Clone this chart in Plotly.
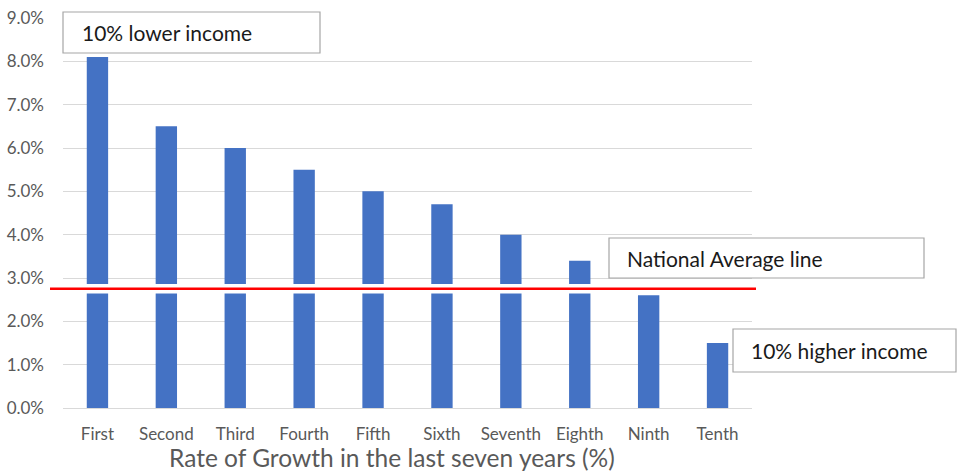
import plotly.graph_objects as go

categories = ["First", "Second", "Third", "Fourth", "Fifth", "Sixth", "Seventh", "Eighth", "Ninth", "Tenth"]
growth = [8.1, 6.5, 6.0, 5.5, 5.0, 4.7, 4.0, 3.4, 2.6, 1.5]
national_avg = 2.75
y_ticks = [0, 1, 2, 3, 4, 5, 6, 7, 8, 9]
x_title = "Rate of Growth in the last seven years (%)"

W, H = 960, 475
L, R, T, B = 63, 208, 18, 67
PW, PH = W - L - R, H - T - B

def px(x):
    return (x - L) / PW

def py(y):
    return (H - B - y) / PH

fig = go.Figure()
fig.add_trace(go.Bar(x=categories, y=growth, marker=dict(color="#4472C4", line=dict(width=0)),
                     width=0.31, hoverinfo="x+y"))

font_fam = "Lato, 'Open Sans', sans-serif"
shapes = []
# white gap around national average line
shapes.append(dict(type="rect", xref="paper", yref="y", x0=0, x1=1,
                   y0=national_avg - 0.11, y1=national_avg + 0.11,
                   fillcolor="white", line=dict(width=0), layer="above"))
shapes.append(dict(type="line", xref="paper", yref="y", x0=px(50), x1=px(756),
                   y0=national_avg, y1=national_avg,
                   line=dict(color="#FF0000", width=2.5), layer="above"))

boxes = [
    ("10% lower income", 63, 12, 320, 53, 80),
    ("National Average line", 609, 238, 924, 278, 625),
    ("10% higher income", 733, 329, 956, 372, 749),
]
annotations = []
for text, x0, y0, x1, y1, tx in boxes:
    shapes.append(dict(type="rect", xref="paper", yref="paper",
                       x0=px(x0), x1=px(x1), y0=py(y1), y1=py(y0),
                       fillcolor="white", line=dict(color="#A6A6A6", width=1.2), layer="above"))
    annotations.append(dict(text=text, xref="paper", yref="paper", x=px(tx), y=py((y0 + y1) / 2),
                            xanchor="left", yanchor="middle", showarrow=False,
                            font=dict(family=font_fam, size=21, color="#1a1a1a")))

annotations.append(dict(text=x_title, xref="paper", yref="paper", x=px(392), y=py(474),
                        xanchor="center", yanchor="bottom", showarrow=False,
                        font=dict(family=font_fam, size=24.5, color="#595959")))

fig.update_layout(
    width=W, height=H,
    margin=dict(l=L, r=R, t=T, b=B, pad=0, autoexpand=False),
    paper_bgcolor="white", plot_bgcolor="white",
    showlegend=False,
    bargap=0.69,
    shapes=shapes,
    annotations=annotations,
    xaxis=dict(
        automargin=False,
        tickfont=dict(family=font_fam, size=17, color="#595959"),
        showgrid=False, showline=True, linecolor="#D9D9D9", linewidth=1,
        ticks="", ticklabelstandoff=11,
    ),
    yaxis=dict(
        automargin=False,
        range=[0, 9], tickvals=y_ticks,
        ticktext=[f"{v:.1f}%" for v in y_ticks],
        tickfont=dict(family=font_fam, size=17, color="#595959"),
        showgrid=True, gridcolor="#D9D9D9", gridwidth=1,
        zeroline=False, ticks="", ticklabelstandoff=18,
    ),
)
fig.write_html("out.html")
